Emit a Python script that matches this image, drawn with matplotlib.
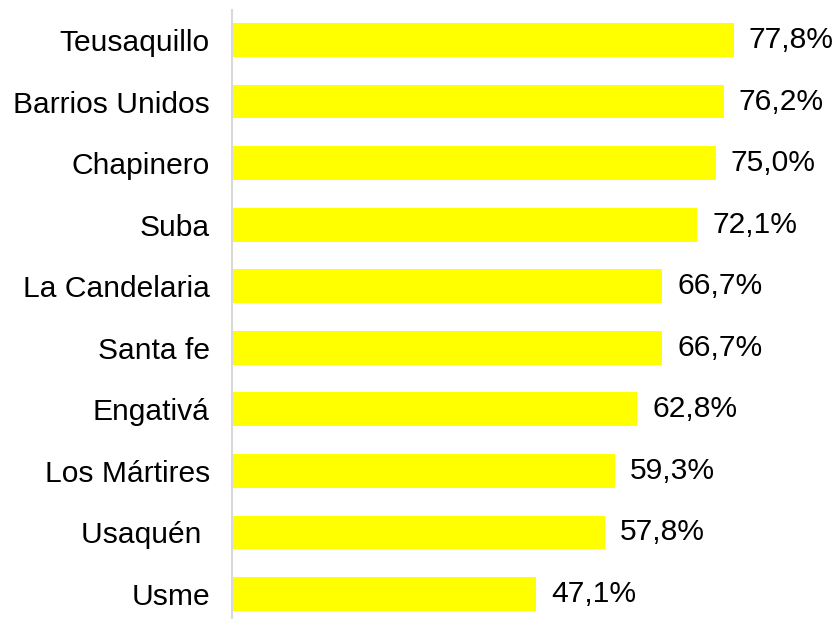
import matplotlib.pyplot as plt

plt.rcParams['font.family'] = ['Liberation Sans', 'DejaVu Sans']

localidades = ['Teusaquillo', 'Barrios Unidos', 'Chapinero', 'Suba', 'La Candelaria',
               'Santa fe', 'Engativá', 'Los Mártires', 'Usaquén ', 'Usme']
valores = [77.8, 76.2, 75.0, 72.1, 66.7, 66.7, 62.8, 59.3, 57.8, 47.1]
etiquetas = ['77,8%', '76,2%', '75,0%', '72,1%', '66,7%', '66,7%', '62,8%', '59,3%', '57,8%', '47,1%']

W, H = 837, 619
fig = plt.figure(figsize=(W / 100, H / 100), dpi=100)
ax = fig.add_axes([232 / W, 0, 1 - 232 / W, 1 - 10 / H])

pos = list(range(len(localidades)))
ax.barh(pos, valores, height=0.55, color='#FFFF00', left=0)

px_unit = (735 - 233) / 77.8
ax.set_xlim(0, (W - 232) / px_unit)
step = (594 - 40) / 9
ax.set_ylim(9 + 25 / step, -30 / step)

for p, v, t in zip(pos, valores, etiquetas):
    ax.text(v + 15 / px_unit, p, t, va='center', ha='left', fontsize=21.6, color='#000000')

ax.set_yticks(pos)
ax.set_yticklabels(localidades, fontsize=21.6)
ax.tick_params(axis='y', length=0, pad=16)
ax.set_xticks([])
for s in ['top', 'right', 'bottom']:
    ax.spines[s].set_visible(False)
ax.spines['left'].set_color('#d9d9d9')
ax.spines['left'].set_linewidth(1.5)

fig.savefig('out.png', dpi=100)
